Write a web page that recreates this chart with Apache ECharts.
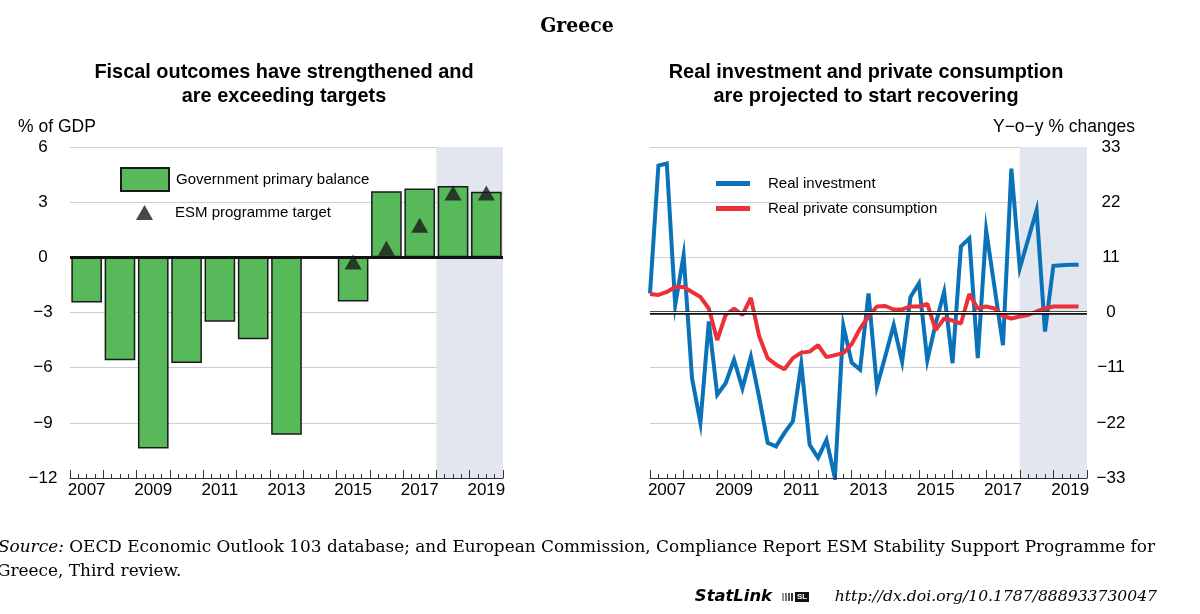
<!DOCTYPE html>
<html><head><meta charset="utf-8">
<script src="https://cdn.jsdelivr.net/npm/echarts@6/dist/echarts.min.js"></script>
<style>html,body{margin:0;padding:0;background:#fff}#c{width:1200px;height:614px}</style>
</head><body><div id="c"></div>
<script>
// ---------- data ----------
const years = ['2007','2008','2009','2010','2011','2012','2013','2014','2015','2016','2017','2018','2019'];
const primaryBalance = [-2.45, -5.6, -10.4, -5.75, -3.5, -4.45, -9.65, 0, -2.4, 3.6, 3.75, 3.88, 3.57];
const esmTarget = [null, null, null, null, null, null, null, null, -0.25, 0.5, 1.75, 3.5, 3.5];
const leftTicks = { min: -12, max: 6, interval: 3 };
const rightTicks = { min: -33, max: 33, interval: 11 };
const projectionStartYear = '2018';
const firstQuarterYear = 2007;
const realInvestment = [3.8, 29.3, 29.7, 1.5, 11.4, -13.1, -22, -1.8, -16.4, -14.1, -9.4, -15.1,
  -8.8, -17, -26, -26.7, -24, -21.7, -10.3, -26.4, -29, -25.4, -33, -2.6,
  -10, -11.4, 3.8, -14.8, -8.7, -2.5, -9.8, 3.1, 5.8, -9.5, -2.2, 4.1,
  -10.1, 13.2, 14.8, -9.1, 16.4, 5, -6.5, 28.7, 8.8, 14.6, 20.4, -3.8,
  9.3, 9.4, 9.5, 9.5];
const realConsumption = [3.7, 3.5, 4.1, 5.1, 5.1, 4.1, 3.1, 0.8, -5.5, -0.5, 0.8, -0.5,
  2.9, -4.8, -9.1, -10.4, -11.3, -9.1, -8, -7.8, -6.5, -8.9, -8.5, -8.1,
  -6.3, -3.2, -0.8, 1.2, 1.3, 0.6, 0.6, 1.2, 1.2, 1.7, -3.5, -1.2,
  -1.6, -2.2, 3.7, 0.8, 1.2, 0.8, -0.7, -1.2, -0.8, -0.5, 0.2, 0.8,
  1.2, 1.2, 1.2, 1.2];

// ---------- text ----------
const mainTitle = 'Greece';
const leftTitle = ['Fiscal outcomes have strengthened and', 'are exceeding targets'];
const rightTitle = ['Real investment and private consumption', 'are projected to start recovering'];
const sourceLine1 = 'OECD Economic Outlook 103 database; and European Commission, Compliance Report ESM Stability Support Programme for';
const sourceLine2 = 'Greece, Third review.';
const statUrl = 'http://dx.doi.org/10.1787/888933730047';

// ---------- helpers ----------
const quarterPos = i => firstQuarterYear + i / 4;
const invPts = realInvestment.map((v, i) => [quarterPos(i), v]);
const conPts = realConsumption.map((v, i) => [quarterPos(i), v]);
const minus = v => String(v).replace('-', '\u2212');
const FONT = '"Liberation Sans", Arial, sans-serif';
const SERIF = '"DejaVu Serif", serif';
const SERIF_C = '"DejaVu Serif Condensed", "DejaVu Serif", serif';
const WIDE_SANS = '"DejaVu Sans", Verdana, sans-serif';
const gridColor = '#cfcfcf';
const shade = '#e2e6ee';
const lastYear = years[years.length - 1];

const mctx = document.createElement('canvas').getContext('2d');
function fit(text, pre, family, target) {
  mctx.font = pre + ' 20px ' + family;
  const w = mctx.measureText(text).width;
  return Math.round(20 * target / w * 10) / 10;
}
const titleSize = Math.min(21, fit(mainTitle, 'bold', SERIF_C, 80));
const subSize = fit(leftTitle[0], 'bold', FONT, 380);
const srcSize = fit('Source: ' + sourceLine1, '', SERIF, 1159);
const urlSize = fit(statUrl, 'italic', SERIF, 322);
const statSize = fit('StatLink', 'italic bold', WIDE_SANS, 77);

const chart = echarts.init(document.getElementById('c'), null, { renderer: 'canvas' });

const tickAxis = (gridIndex, min, max) => ({
  type: 'value', gridIndex, min, max, interval: 1, position: 'bottom', offset: 0,
  axisLine: { show: true, lineStyle: { color: '#333', width: 1 } },
  axisTick: { show: true, inside: true, length: 8, lineStyle: { color: '#333', width: 1 } },
  minorTick: { show: true, splitNumber: 4, length: 4, lineStyle: { color: '#333', width: 1 } },
  axisLabel: { show: false }, splitLine: { show: false }, minorSplitLine: { show: false }, z: 5
});
const labelAxis = (gridIndex) => ({
  type: 'category', gridIndex, data: years, boundaryGap: true, position: 'bottom',
  axisLine: { show: false }, axisTick: { show: false },
  axisLabel: { interval: 1, color: '#000', fontSize: 17, fontFamily: FONT, margin: 4 },
  splitLine: { show: false }
});

const option = {
  animation: false,
  backgroundColor: '#fff',
  textStyle: { fontFamily: FONT },
  grid: [
    { left: 70, right: 697, top: 147, bottom: 136 },
    { left: 650, right: 113, top: 147, bottom: 136 }
  ],
  xAxis: [
    labelAxis(0),
    tickAxis(0, 0, years.length),
    labelAxis(1),
    tickAxis(1, firstQuarterYear, Number(lastYear) + 1)
  ],
  yAxis: [
    { type: 'value', gridIndex: 0, min: leftTicks.min, max: leftTicks.max, interval: leftTicks.interval,
      axisLine: { show: false }, axisTick: { show: false },
      axisLabel: { color: '#000', fontSize: 17, fontFamily: FONT, align: 'center', margin: 27, formatter: minus },
      splitLine: { lineStyle: { color: gridColor, width: 1 } } },
    { type: 'value', gridIndex: 1, position: 'right', min: rightTicks.min, max: rightTicks.max, interval: rightTicks.interval,
      axisLine: { show: false }, axisTick: { show: false },
      axisLabel: { color: '#000', fontSize: 17, fontFamily: FONT, align: 'center', margin: 24, formatter: minus },
      splitLine: { lineStyle: { color: gridColor, width: 1 } } }
  ],
  legend: [
    { data: ['Government primary balance'], left: 115, top: 162, orient: 'vertical',
      itemWidth: 48, itemHeight: 23, icon: 'rect', selectedMode: false,
      textStyle: { fontSize: 15, color: '#000', fontFamily: FONT, padding: [0, 0, 0, 2] } },
    { data: ['ESM programme target'], left: 131, top: 200, orient: 'vertical',
      itemWidth: 17, itemHeight: 15, icon: 'triangle', selectedMode: false,
      itemStyle: { color: '#1a1a1a' },
      textStyle: { fontSize: 15, color: '#000', fontFamily: FONT, padding: [0, 0, 0, 17] } },
    { data: ['Real investment', 'Real private consumption'], left: 711, top: 171, orient: 'vertical',
      itemWidth: 34, itemHeight: 5, icon: 'rect', itemGap: 10, selectedMode: false,
      textStyle: { fontSize: 15, color: '#000', fontFamily: FONT, padding: [0, 0, 0, 13] } }
  ],
  series: [
    { name: 'Government primary balance', type: 'bar', xAxisIndex: 0, yAxisIndex: 0,
      data: primaryBalance, barCategoryGap: '8%',
      itemStyle: { color: '#58b95a', borderColor: '#1a1a1a', borderWidth: 1.5 },
      markLine: { silent: true, symbol: 'none', label: { show: false },
        lineStyle: { color: '#111', width: 3, type: 'solid' }, data: [{ yAxis: 0 }] },
      z: 3 },
    { name: 'projection', type: 'line', xAxisIndex: 1, yAxisIndex: 0, data: [],
      markArea: { silent: true, itemStyle: { color: shade },
        data: [[{ xAxis: years.indexOf(projectionStartYear) }, { xAxis: years.length }]] },
      z: 1 },
    { name: 'ESM programme target', type: 'scatter', xAxisIndex: 0, yAxisIndex: 0,
      data: esmTarget, symbol: 'triangle', symbolSize: [17, 15],
      itemStyle: { color: '#1a1a1a' }, z: 6 },
    { name: 'Real investment', type: 'line', xAxisIndex: 3, yAxisIndex: 1,
      data: invPts, showSymbol: false, symbol: 'none',
      lineStyle: { color: '#0a72b8', width: 4, join: 'miter' }, itemStyle: { color: '#0a72b8' },
      markArea: { silent: true, itemStyle: { color: shade },
        data: [[{ xAxis: Number(projectionStartYear) }, { xAxis: Number(lastYear) + 1 }]] },
      z: 3 },
    { name: 'Real private consumption', type: 'line', xAxisIndex: 3, yAxisIndex: 1,
      data: conPts, showSymbol: false, symbol: 'none',
      lineStyle: { color: '#ec3038', width: 4 }, itemStyle: { color: '#ec3038' },
      markLine: { silent: true, symbol: 'none', label: { show: false },
        data: [
          { yAxis: 0, lineStyle: { color: '#111', width: 3.6, type: 'solid' } },
          { yAxis: 0, lineStyle: { color: '#fff', width: 1.2, type: 'solid' } }
        ] },
      z: 4 }
  ],
  graphic: [
    { type: 'text', x: 577, y: 27, style: { text: mainTitle, font: 'bold ' + titleSize + 'px ' + SERIF_C, fill: '#000', align: 'center', verticalAlign: 'middle' } },
    { type: 'text', x: 284, y: 85, style: { text: leftTitle.join('\n'),
      font: 'bold ' + subSize + 'px ' + FONT, fill: '#000', align: 'center', verticalAlign: 'middle', lineHeight: 24 } },
    { type: 'text', x: 866, y: 85, style: { text: rightTitle.join('\n'),
      font: 'bold ' + subSize + 'px ' + FONT, fill: '#000', align: 'center', verticalAlign: 'middle', lineHeight: 24 } },
    { type: 'text', x: 18, y: 127, style: { text: '% of GDP', font: '17.5px ' + FONT, fill: '#000', verticalAlign: 'middle' } },
    { type: 'text', x: 1135, y: 127, style: { text: 'Y\u2212o\u2212y % changes', font: '17.5px ' + FONT, fill: '#000', align: 'right', verticalAlign: 'middle' } },
    { type: 'text', x: -2, y: 548, style: {
      text: '{i|Source:} ' + sourceLine1,
      font: srcSize + 'px ' + SERIF, fill: '#000', verticalAlign: 'middle',
      rich: { i: { fontStyle: 'italic', fontSize: srcSize, fontFamily: SERIF } } } },
    { type: 'text', x: -3, y: 572, style: { text: sourceLine2,
      font: srcSize + 'px ' + SERIF, fill: '#000', verticalAlign: 'middle' } },
    { type: 'text', x: 772, y: 597, style: { text: 'StatLink', font: 'italic bold ' + statSize + 'px ' + WIDE_SANS, fill: '#000', align: 'right', verticalAlign: 'middle' } },
    { type: 'group', x: 782, y: 592, children: [
      { type: 'rect', shape: { x: 0, y: 1, width: 2, height: 8 }, style: { fill: '#999' } },
      { type: 'rect', shape: { x: 3, y: 1, width: 2, height: 8 }, style: { fill: '#777' } },
      { type: 'rect', shape: { x: 6, y: 1, width: 2, height: 8 }, style: { fill: '#555' } },
      { type: 'rect', shape: { x: 9, y: 1, width: 2, height: 8 }, style: { fill: '#333' } },
      { type: 'rect', shape: { x: 13, y: 0, width: 14, height: 10 }, style: { fill: '#111' } },
      { type: 'text', style: { x: 20, y: 5, text: 'SL', font: 'bold 8px ' + FONT, fill: '#fff', align: 'center', verticalAlign: 'middle' } }
    ] },
    { type: 'text', x: 1157, y: 597, style: { text: statUrl,
      font: 'italic ' + urlSize + 'px ' + SERIF, fill: '#000', align: 'right', verticalAlign: 'middle' } }
  ]
};
chart.setOption(option);
</script>
</body></html>
